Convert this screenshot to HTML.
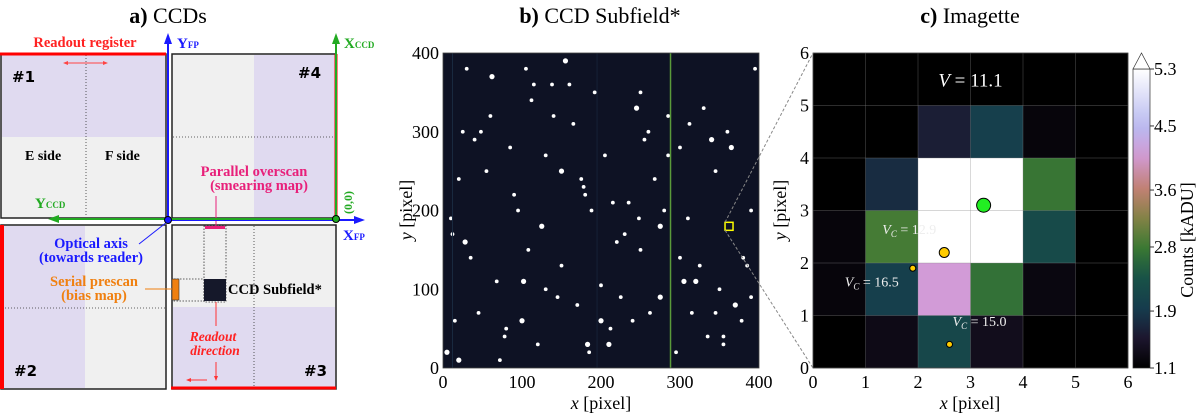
<!DOCTYPE html>
<html><head><meta charset="utf-8"><style>
body{margin:0;background:#fff;width:1200px;height:414px;overflow:hidden}
svg{display:block;font-family:"Liberation Serif",serif}
.sans{font-family:"DejaVu Sans","Liberation Sans",sans-serif;font-weight:bold}
</style></head><body>
<svg id="fig" width="1200" height="414" viewBox="0 0 1200 414">
<!-- Panel a -->
<g>
<text x="168" y="23" font-size="22" text-anchor="middle"><tspan font-weight="bold">a)</tspan> CCDs</text>
<g>
<rect x="1" y="54" width="165" height="164" fill="#f0f0f0" stroke="#222" stroke-width="1.5"/>
<rect x="2" y="55" width="163" height="82" fill="#e0daf0"/>
<line x1="86" y1="55" x2="86" y2="217" stroke="#333" stroke-dasharray="1,2" stroke-width="0.8"/>
<line x1="0" y1="54" x2="166" y2="54" stroke="#f00" stroke-width="3"/>
<text x="12" y="82" font-size="15" class="sans">#1</text>
<text x="25" y="160" font-size="14" font-weight="bold">E side</text>
<text x="105" y="160" font-size="14" font-weight="bold">F side</text>
</g>
<text x="85" y="47" font-size="14.5" fill="#f22" font-weight="bold" text-anchor="middle">Readout register</text>
<line x1="65" y1="63" x2="106" y2="63" stroke="#f44" stroke-width="1"/>
<path d="M63 63l5-2v4zM108 63l-5-2v4z" fill="#f44"/>
<g>
<rect x="172" y="54" width="164" height="164" fill="#f0f0f0" stroke="#222" stroke-width="1.5"/>
<rect x="254" y="55" width="81" height="162" fill="#e0daf0"/>
<line x1="173" y1="137" x2="335" y2="137" stroke="#333" stroke-dasharray="1,2" stroke-width="0.8"/>
<line x1="336" y1="54" x2="336" y2="219" stroke="#f00" stroke-width="3"/>
<text x="298" y="78" font-size="15" class="sans">#4</text>
<text x="254" y="176" font-size="14.5" fill="#e8207a" text-anchor="middle" font-weight="bold">Parallel overscan</text>
<text x="259" y="190" font-size="14.5" fill="#e8207a" text-anchor="middle" font-weight="bold">(smearing map)</text>
</g>
<g>
<rect x="1" y="225" width="165" height="164" fill="#f0f0f0" stroke="#222" stroke-width="1.5"/>
<rect x="2" y="226" width="83" height="162" fill="#e0daf0"/>
<line x1="2" y1="308" x2="165" y2="308" stroke="#333" stroke-dasharray="1,2" stroke-width="0.8"/>
<line x1="2" y1="225" x2="2" y2="389" stroke="#f00" stroke-width="4"/>
<text x="14" y="376" font-size="15" class="sans">#2</text>
</g>
<g>
<rect x="172" y="225" width="164" height="164" fill="#f0f0f0" stroke="#222" stroke-width="1.5"/>
<rect x="173" y="307" width="162" height="81" fill="#e0daf0"/>
<line x1="254" y1="226" x2="254" y2="388" stroke="#333" stroke-dasharray="1,2" stroke-width="0.8"/>
<line x1="171" y1="388" x2="336" y2="388" stroke="#f00" stroke-width="3"/>
<text x="304" y="376" font-size="15" class="sans">#3</text>
<rect x="204" y="226" width="22" height="76" fill="none" stroke="#333" stroke-dasharray="1.5,1.5" stroke-width="0.8"/>
<rect x="174" y="279" width="30" height="22" fill="none" stroke="#333" stroke-dasharray="1.5,1.5" stroke-width="0.8"/>
<rect x="204" y="279" width="22" height="22" fill="#15182a"/>
<rect x="205" y="226" width="20" height="3" fill="#e8207a"/>
<rect x="172" y="279" width="7" height="21" fill="#f08010" stroke="#333" stroke-width="0.6"/>
<text x="228" y="294" font-size="14.5" font-weight="bold">CCD Subfield*</text>
<line x1="216" y1="196" x2="216" y2="226" stroke="#e8207a"/>
<line x1="216" y1="302" x2="216" y2="326" stroke="#f33"/>
<text x="213" y="341" font-size="13.5" fill="#f22" font-style="italic" font-weight="bold" text-anchor="middle">Readout</text>
<text x="215" y="355" font-size="13.5" fill="#f22" font-style="italic" font-weight="bold" text-anchor="middle">direction</text>
<line x1="216" y1="362" x2="216" y2="378" stroke="#f33"/><path d="M216 381l-2-5h4z" fill="#f33"/>
<line x1="190" y1="380" x2="207" y2="380" stroke="#f33"/><path d="M186 380l5-2v4z" fill="#f33"/>
</g>
<text x="91" y="248" font-size="14.5" fill="#1a1aff" text-anchor="middle" font-weight="bold">Optical axis</text>
<text x="91" y="262" font-size="14.5" fill="#1a1aff" text-anchor="middle" font-weight="bold">(towards reader)</text>
<line x1="139" y1="244" x2="167" y2="222" stroke="#1a1aff"/>
<text x="94" y="286" font-size="14.5" fill="#f08010" text-anchor="middle" font-weight="bold">Serial prescan</text>
<text x="94" y="300" font-size="14.5" fill="#f08010" text-anchor="middle" font-weight="bold">(bias map)</text>
<line x1="145" y1="289" x2="172" y2="289" stroke="#f08010"/>
<line x1="168" y1="219" x2="168" y2="40" stroke="#1a1aff" stroke-width="2"/>
<path d="M168 33l-4 11h8z" fill="#1a1aff"/>
<text x="177" y="48" font-size="15" fill="#1a1aff" font-weight="bold">Y<tspan font-size="9">FP</tspan></text>
<line x1="168" y1="220" x2="358" y2="220" stroke="#1a1aff" stroke-width="2"/>
<path d="M365 220l-11-4v8z" fill="#1a1aff"/>
<text x="343" y="240" font-size="15" fill="#1a1aff" font-weight="bold">X<tspan font-size="9">FP</tspan></text>
<line x1="336" y1="219" x2="58" y2="219" stroke="#22aa22" stroke-width="2"/>
<path d="M48 219l11-4v8z" fill="#22aa22"/>
<text x="35" y="208" font-size="15" fill="#22aa22" font-weight="bold">Y<tspan font-size="9">CCD</tspan></text>
<line x1="336" y1="219" x2="336" y2="42" stroke="#22aa22" stroke-width="2"/>
<path d="M336 33l-4 11h8z" fill="#22aa22"/>
<text x="344" y="48" font-size="15" fill="#22aa22" font-weight="bold">X<tspan font-size="9">CCD</tspan></text>
<text x="0" y="0" font-size="12" fill="#22aa22" font-weight="bold" transform="translate(352,214) rotate(-90)">(0,0)</text>
<circle cx="336" cy="219" r="3.5" fill="#22aa22" stroke="#000"/>
<circle cx="168" cy="220" r="3.5" fill="#1a1aff" stroke="#000"/>
</g>
<!-- Panel b -->
<g id="pb">
<text x="600" y="23" font-size="22" text-anchor="middle"><tspan font-weight="bold">b)</tspan> CCD Subfield*</text>
<rect x="443" y="53" width="316" height="315" fill="#0e1224"/>
<g id="stars"></g>
<rect x="443" y="53" width="316" height="315" fill="none" stroke="#444" stroke-width="0.8"/>
<g id="bticks"></g>
<text x="601" y="409" font-size="18" text-anchor="middle"><tspan font-style="italic">x</tspan> [pixel]</text>
<text font-size="18" text-anchor="middle" transform="translate(412,210) rotate(-90)"><tspan font-style="italic">y</tspan> [pixel]</text>
</g>
<!-- Panel c -->
<g id="pc">
<text x="970" y="23" font-size="22" text-anchor="middle"><tspan font-weight="bold">c)</tspan> Imagette</text>
<g id="cells"></g>
<g id="cgrid"></g>
<rect x="813" y="53" width="315" height="315" fill="none" stroke="#444" stroke-width="0.8"/>
<g id="cticks"></g>
<g id="cann"></g>
<text x="970" y="409" font-size="18" text-anchor="middle"><tspan font-style="italic">x</tspan> [pixel]</text>
<text font-size="18" text-anchor="middle" transform="translate(786,210) rotate(-90)"><tspan font-style="italic">y</tspan> [pixel]</text>
<defs><linearGradient id="cmap" x1="0" y1="1" x2="0" y2="0"></linearGradient></defs>
<g id="cbar"></g>
<text font-size="18" text-anchor="middle" transform="translate(1193,240) rotate(-90)">Counts [kADU]</text>
</g>
</svg>
<script>
// Panel c data (rows from y=5 at top to y=0 at bottom), kADU
const cellValues = [
 [1.1,1.1,1.1,1.1,1.1,1.1],
 [1.1,1.1,1.6,2.0,1.2,1.1],
 [1.1,1.75,5.4,5.4,2.75,1.1],
 [1.2,2.85,5.4,5.4,2.2,1.1],
 [1.2,2.0,4.1,2.7,1.25,1.1],
 [1.1,1.3,2.15,1.35,1.1,1.1]
];
const cbTicks = [1.1,1.9,2.8,3.6,4.5,5.3];
const axisTicksC = [0,1,2,3,4,5,6];
const axisTicksB = [0,100,200,300,400];
const sources = [
 {x:3.25,y:3.1,r:7,c:"#22ee22",label:"V = 11.1"},
 {x:2.5,y:2.2,r:5,c:"#ffcc00",label:"12.9"},
 {x:1.9,y:1.9,r:3,c:"#ffcc00",label:"16.5"},
 {x:2.6,y:0.45,r:3,c:"#ffcc00",label:"15.0"}
];
const stops=[[1.1,[0,0,0]],[1.5,[28,20,44]],[1.9,[22,58,78]],[2.4,[24,84,70]],[2.8,[60,122,50]],[3.2,[130,130,70]],[3.6,[192,128,112]],[4.1,[210,155,215]],[4.5,[184,186,240]],[5.3,[255,255,255]]];
function cmap(v){v=Math.max(1.1,Math.min(5.3,v));for(let i=1;i<stops.length;i++){if(v<=stops[i][0]){const a=stops[i-1],b=stops[i],t=(v-a[0])/(b[0]-a[0]);const c=a[1].map((k,j)=>Math.round(k+(b[1][j]-k)*t));return`rgb(${c})`;}}return"#fff";}
const NS="http://www.w3.org/2000/svg";
function mk(t,a,p){const e=document.createElementNS(NS,t);for(const k in a)e.setAttribute(k,a[k]);p.appendChild(e);return e;}
const cx=v=>813+v*52.5, cy=v=>368-v*52.5;
const cells=document.getElementById('cells');
cellValues.forEach((row,r)=>row.forEach((v,c)=>{const e=mk('rect',{x:cx(c),y:cy(5-r+1),width:52.6,height:52.6,fill:cmap(v)},cells);

}));
const cg=document.getElementById('cgrid'),ct=document.getElementById('cticks');
axisTicksC.forEach(t=>{
 mk('line',{x1:cx(t),y1:53,x2:cx(t),y2:368,stroke:"#888","stroke-opacity":0.45,"stroke-width":0.7},cg);
 mk('line',{x1:813,y1:cy(t),x2:1128,y2:cy(t),stroke:"#888","stroke-opacity":0.45,"stroke-width":0.7},cg);
 const a=mk('text',{x:cx(t),y:388,"font-size":18,"text-anchor":"middle"},ct);a.textContent=t;
 
 
 const b=mk('text',{x:809,y:cy(t)+6,"font-size":18,"text-anchor":"end"},ct);b.textContent=t;
 
 
});
const ann=document.getElementById('cann');
const tv=mk('text',{x:cx(3),y:cy(5.5)+7,"font-size":19,fill:"#fff","text-anchor":"middle"},ann);tv.innerHTML='<tspan font-style="italic">V</tspan> = 11.1';
sources.forEach((s,i)=>{const e=mk('circle',{cx:cx(s.x),cy:cy(s.y),r:s.r,fill:s.c,stroke:"#000","stroke-width":1},ann);


if(i>0){const pos=[[0,0],[cx(2.5)-62,cy(2.55)],[cx(1.9)-68,cy(1.55)],[cx(2.6)+3,cy(0.8)]][i];
const t=mk('text',{x:pos[0],y:pos[1],"font-size":14,fill:"#eee"},ann);t.innerHTML='<tspan font-style="italic">V</tspan><tspan font-size="9" font-style="italic" dy="3">C</tspan><tspan dy="-3"> = '+s.label+'</tspan>';}});
// colorbar
const g=document.querySelector('#cmap');
for(let i=0;i<=20;i++){const v=1.1+4.2*i/20;mk('stop',{offset:i/20,"stop-color":cmap(v)},g);}
const cb=document.getElementById('cbar');
const by=v=>368-(v-1.1)/4.2*299;
mk('rect',{x:1133,y:69,width:17,height:299,fill:"url(#cmap)",stroke:"#333","stroke-width":0.7},cb);
mk('path',{d:"M1133 69L1141.5 53L1150 69Z",fill:"#fff",stroke:"#333","stroke-width":0.7},cb);
cbTicks.forEach(t=>{mk('line',{x1:1150,y1:by(t),x2:1154,y2:by(t),stroke:"#333"},cb);const e=mk('text',{x:1154,y:by(t)+6,"font-size":18},cb);e.textContent=t.toFixed(1);

});
// panel b
const bx=v=>443+v*0.79, byb=v=>368-v*0.7875;
const bt=document.getElementById('bticks');
axisTicksB.forEach(t=>{const a=mk('text',{x:bx(t),y:388,"font-size":18,"text-anchor":"middle"},bt);a.textContent=t;


const b=mk('text',{x:439,y:byb(t)+6,"font-size":18,"text-anchor":"end"},bt);b.textContent=t;

});
const st=document.getElementById('stars');
const starX=[5,10,15,20,25,28,30,35,45,55,62,68,78,85,95,100,105,108,112,120,125,130,140,145,150,155,165,170,175,180,183,188,192,200,205,210,220,225,235,240,245,250,255,262,268,275,280,285,295,300,305,310,315,325,335,340,345,350,355,360,370,378,385,390,395,20,60,90,130,160,200,230,260,300,330,365,390,40,80,115,150,185,215,250,285,320,355,12,48,72,102,138,178,212,248,275,312,345,380];
const starY=[20,190,60,240,300,160,380,140,70,250,370,110,40,280,200,60,380,150,340,30,180,270,320,90,130,390,310,80,240,220,30,200,350,105,270,30,160,90,210,60,330,350,290,70,240,180,200,320,20,280,110,190,70,130,40,290,70,100,30,300,80,60,130,200,380,10,320,220,100,360,60,170,300,140,330,280,90,290,50,360,250,20,210,150,270,110,40,170,300,10,110,360,230,50,190,90,310,250,140];
starX.forEach((x,i)=>{const e=mk('circle',{cx:bx(x),cy:byb(starY[i]),r:(i%5===0)?2.6:1.9,fill:"#fff"},st);

});
mk('line',{x1:bx(288),y1:53,x2:bx(288),y2:368,stroke:"#5a9a3a","stroke-width":1.5},st);
mk('line',{x1:bx(12),y1:53,x2:bx(12),y2:368,stroke:"#1a2a40","stroke-width":1},st);
mk('line',{x1:bx(195),y1:53,x2:bx(195),y2:368,stroke:"#162236","stroke-width":1},st);
const yb=mk('rect',{x:bx(357),y:byb(185),width:8,height:8,fill:"none",stroke:"#ff0","stroke-width":1.5},st);


const svg=document.getElementById('fig');
mk('line',{x1:bx(357),y1:byb(185),x2:813,y2:53,stroke:"#888","stroke-dasharray":"3,2"},svg);
mk('line',{x1:bx(357),y1:byb(175),x2:813,y2:368,stroke:"#888","stroke-dasharray":"3,2"},svg);
</script>
</body></html>
